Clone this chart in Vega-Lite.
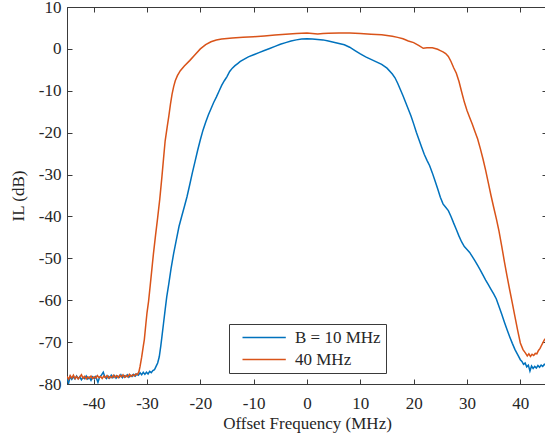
{
  "$schema": "https://vega.github.io/schema/vega-lite/v6.json",
  "width": 480,
  "height": 377,
  "autosize": {"type": "none"},
  "padding": {"left": 67, "top": 7, "right": 0, "bottom": 54},
  "config": {
    "font": "Liberation Serif",
    "view": {"stroke": "#3a3a3a", "strokeWidth": 1},
    "axis": {
      "labelFont": "Liberation Serif",
      "titleFont": "Liberation Serif",
      "labelFontSize": 17,
      "titleFontSize": 17,
      "labelColor": "#262626",
      "titleColor": "#262626",
      "titleFontWeight": "normal",
      "gridColor": "#e2e2e2",
      "gridWidth": 1,
      "domainColor": "#3a3a3a",
      "tickColor": "#3a3a3a",
      "tickSize": -5
    }
  },
  "data": {
    "values": [
      {"s": "B = 10 MHz", "f": -45, "v": -78.6},
      {"s": "B = 10 MHz", "f": -44.7, "v": -79.8},
      {"s": "B = 10 MHz", "f": -44.4, "v": -78.2},
      {"s": "B = 10 MHz", "f": -44.1, "v": -78.9},
      {"s": "B = 10 MHz", "f": -43.8, "v": -78.3},
      {"s": "B = 10 MHz", "f": -43.5, "v": -78.8},
      {"s": "B = 10 MHz", "f": -43.2, "v": -78.1},
      {"s": "B = 10 MHz", "f": -42.9, "v": -78.7},
      {"s": "B = 10 MHz", "f": -42.6, "v": -78.3},
      {"s": "B = 10 MHz", "f": -42.3, "v": -79.0},
      {"s": "B = 10 MHz", "f": -42.0, "v": -78.4},
      {"s": "B = 10 MHz", "f": -41.7, "v": -78.7},
      {"s": "B = 10 MHz", "f": -41.4, "v": -78.1},
      {"s": "B = 10 MHz", "f": -41.1, "v": -78.8},
      {"s": "B = 10 MHz", "f": -40.8, "v": -78.4},
      {"s": "B = 10 MHz", "f": -40.5, "v": -79.1},
      {"s": "B = 10 MHz", "f": -40.2, "v": -78.3},
      {"s": "B = 10 MHz", "f": -39.9, "v": -78.7},
      {"s": "B = 10 MHz", "f": -39.6, "v": -78.2},
      {"s": "B = 10 MHz", "f": -39.2, "v": -79.6},
      {"s": "B = 10 MHz", "f": -38.9, "v": -78.4},
      {"s": "B = 10 MHz", "f": -38.6, "v": -78.0},
      {"s": "B = 10 MHz", "f": -38.2, "v": -77.2},
      {"s": "B = 10 MHz", "f": -37.9, "v": -78.3},
      {"s": "B = 10 MHz", "f": -37.6, "v": -78.7},
      {"s": "B = 10 MHz", "f": -37.3, "v": -78.1},
      {"s": "B = 10 MHz", "f": -37.0, "v": -78.6},
      {"s": "B = 10 MHz", "f": -36.7, "v": -77.9},
      {"s": "B = 10 MHz", "f": -36.4, "v": -78.5},
      {"s": "B = 10 MHz", "f": -36.1, "v": -78.0},
      {"s": "B = 10 MHz", "f": -35.8, "v": -78.6},
      {"s": "B = 10 MHz", "f": -35.5, "v": -78.1},
      {"s": "B = 10 MHz", "f": -35.2, "v": -78.4},
      {"s": "B = 10 MHz", "f": -34.9, "v": -77.8},
      {"s": "B = 10 MHz", "f": -34.6, "v": -78.5},
      {"s": "B = 10 MHz", "f": -34.3, "v": -78.0},
      {"s": "B = 10 MHz", "f": -34.0, "v": -78.3},
      {"s": "B = 10 MHz", "f": -33.7, "v": -77.8},
      {"s": "B = 10 MHz", "f": -33.4, "v": -78.4},
      {"s": "B = 10 MHz", "f": -33.1, "v": -77.9},
      {"s": "B = 10 MHz", "f": -32.8, "v": -78.2},
      {"s": "B = 10 MHz", "f": -32.5, "v": -77.7},
      {"s": "B = 10 MHz", "f": -32.2, "v": -78.1},
      {"s": "B = 10 MHz", "f": -31.9, "v": -77.6},
      {"s": "B = 10 MHz", "f": -31.6, "v": -77.9},
      {"s": "B = 10 MHz", "f": -31.3, "v": -77.3},
      {"s": "B = 10 MHz", "f": -31.0, "v": -77.8},
      {"s": "B = 10 MHz", "f": -30.7, "v": -77.2},
      {"s": "B = 10 MHz", "f": -30.4, "v": -77.7},
      {"s": "B = 10 MHz", "f": -30.1, "v": -77.2},
      {"s": "B = 10 MHz", "f": -29.8, "v": -77.6},
      {"s": "B = 10 MHz", "f": -29.5, "v": -77.0},
      {"s": "B = 10 MHz", "f": -29.2, "v": -77.3},
      {"s": "B = 10 MHz", "f": -28.9, "v": -76.8},
      {"s": "B = 10 MHz", "f": -28.6, "v": -76.6},
      {"s": "B = 10 MHz", "f": -28.3, "v": -75.8},
      {"s": "B = 10 MHz", "f": -28.0, "v": -75.0},
      {"s": "B = 10 MHz", "f": -27.7, "v": -73.5},
      {"s": "B = 10 MHz", "f": -27.4, "v": -70.8},
      {"s": "B = 10 MHz", "f": -27.2, "v": -68.7},
      {"s": "B = 10 MHz", "f": -26.9, "v": -65.5},
      {"s": "B = 10 MHz", "f": -26.6, "v": -62.3},
      {"s": "B = 10 MHz", "f": -26.3, "v": -59.2},
      {"s": "B = 10 MHz", "f": -25.9, "v": -56},
      {"s": "B = 10 MHz", "f": -25.5, "v": -52.5},
      {"s": "B = 10 MHz", "f": -25, "v": -48.8},
      {"s": "B = 10 MHz", "f": -24.5, "v": -45.6},
      {"s": "B = 10 MHz", "f": -24, "v": -42.4},
      {"s": "B = 10 MHz", "f": -23.5, "v": -40},
      {"s": "B = 10 MHz", "f": -23, "v": -37.7},
      {"s": "B = 10 MHz", "f": -22.5, "v": -35.3},
      {"s": "B = 10 MHz", "f": -22, "v": -32.5},
      {"s": "B = 10 MHz", "f": -21.5, "v": -29.6},
      {"s": "B = 10 MHz", "f": -21, "v": -26.9},
      {"s": "B = 10 MHz", "f": -20.5, "v": -24.2},
      {"s": "B = 10 MHz", "f": -20, "v": -21.7},
      {"s": "B = 10 MHz", "f": -19.5, "v": -19.4},
      {"s": "B = 10 MHz", "f": -19, "v": -17.5},
      {"s": "B = 10 MHz", "f": -18.5, "v": -15.8},
      {"s": "B = 10 MHz", "f": -18, "v": -14.3},
      {"s": "B = 10 MHz", "f": -17.5, "v": -12.8},
      {"s": "B = 10 MHz", "f": -17, "v": -11.5},
      {"s": "B = 10 MHz", "f": -16.5, "v": -10.1},
      {"s": "B = 10 MHz", "f": -16, "v": -8.7},
      {"s": "B = 10 MHz", "f": -15.5, "v": -7.6},
      {"s": "B = 10 MHz", "f": -15, "v": -6.6},
      {"s": "B = 10 MHz", "f": -14.5, "v": -5.4},
      {"s": "B = 10 MHz", "f": -14, "v": -4.6},
      {"s": "B = 10 MHz", "f": -13.5, "v": -4.0},
      {"s": "B = 10 MHz", "f": -13, "v": -3.5},
      {"s": "B = 10 MHz", "f": -12.5, "v": -3.0},
      {"s": "B = 10 MHz", "f": -12, "v": -2.6},
      {"s": "B = 10 MHz", "f": -11, "v": -1.9},
      {"s": "B = 10 MHz", "f": -10, "v": -1.4},
      {"s": "B = 10 MHz", "f": -9, "v": -0.9},
      {"s": "B = 10 MHz", "f": -8, "v": -0.4},
      {"s": "B = 10 MHz", "f": -7, "v": 0.1},
      {"s": "B = 10 MHz", "f": -6, "v": 0.6},
      {"s": "B = 10 MHz", "f": -5, "v": 1.1},
      {"s": "B = 10 MHz", "f": -4, "v": 1.5},
      {"s": "B = 10 MHz", "f": -3, "v": 1.9},
      {"s": "B = 10 MHz", "f": -2, "v": 2.15},
      {"s": "B = 10 MHz", "f": -1, "v": 2.35},
      {"s": "B = 10 MHz", "f": 0, "v": 2.4},
      {"s": "B = 10 MHz", "f": 1, "v": 2.35},
      {"s": "B = 10 MHz", "f": 2, "v": 2.25},
      {"s": "B = 10 MHz", "f": 3, "v": 2.15},
      {"s": "B = 10 MHz", "f": 4, "v": 1.9},
      {"s": "B = 10 MHz", "f": 5, "v": 1.6},
      {"s": "B = 10 MHz", "f": 6, "v": 1.3},
      {"s": "B = 10 MHz", "f": 7, "v": 1.0},
      {"s": "B = 10 MHz", "f": 8, "v": 0.4},
      {"s": "B = 10 MHz", "f": 9, "v": -0.4},
      {"s": "B = 10 MHz", "f": 10, "v": -1.2},
      {"s": "B = 10 MHz", "f": 11, "v": -1.9},
      {"s": "B = 10 MHz", "f": 12, "v": -2.5},
      {"s": "B = 10 MHz", "f": 13, "v": -3.1},
      {"s": "B = 10 MHz", "f": 14, "v": -3.7},
      {"s": "B = 10 MHz", "f": 15, "v": -4.6},
      {"s": "B = 10 MHz", "f": 16, "v": -6.0},
      {"s": "B = 10 MHz", "f": 16.5, "v": -6.9},
      {"s": "B = 10 MHz", "f": 17, "v": -8.2},
      {"s": "B = 10 MHz", "f": 17.5, "v": -9.7},
      {"s": "B = 10 MHz", "f": 18, "v": -11.2},
      {"s": "B = 10 MHz", "f": 18.5, "v": -12.8},
      {"s": "B = 10 MHz", "f": 19, "v": -14.4},
      {"s": "B = 10 MHz", "f": 19.5, "v": -16},
      {"s": "B = 10 MHz", "f": 20, "v": -17.9},
      {"s": "B = 10 MHz", "f": 20.5, "v": -19.9},
      {"s": "B = 10 MHz", "f": 21, "v": -21.7},
      {"s": "B = 10 MHz", "f": 21.5, "v": -23.5},
      {"s": "B = 10 MHz", "f": 22, "v": -25.2},
      {"s": "B = 10 MHz", "f": 22.5, "v": -26.6},
      {"s": "B = 10 MHz", "f": 23, "v": -27.9},
      {"s": "B = 10 MHz", "f": 23.5, "v": -29.6},
      {"s": "B = 10 MHz", "f": 24, "v": -31.5},
      {"s": "B = 10 MHz", "f": 24.5, "v": -33.4},
      {"s": "B = 10 MHz", "f": 25, "v": -35.4},
      {"s": "B = 10 MHz", "f": 25.5, "v": -37.0},
      {"s": "B = 10 MHz", "f": 26, "v": -37.8},
      {"s": "B = 10 MHz", "f": 26.5, "v": -38.6},
      {"s": "B = 10 MHz", "f": 27, "v": -40.0},
      {"s": "B = 10 MHz", "f": 27.5, "v": -41.6},
      {"s": "B = 10 MHz", "f": 28, "v": -43.1},
      {"s": "B = 10 MHz", "f": 28.5, "v": -44.7},
      {"s": "B = 10 MHz", "f": 29, "v": -46.1},
      {"s": "B = 10 MHz", "f": 29.5, "v": -47.2},
      {"s": "B = 10 MHz", "f": 30, "v": -47.9},
      {"s": "B = 10 MHz", "f": 30.5, "v": -48.6},
      {"s": "B = 10 MHz", "f": 31, "v": -49.6},
      {"s": "B = 10 MHz", "f": 31.5, "v": -50.6},
      {"s": "B = 10 MHz", "f": 32, "v": -51.7},
      {"s": "B = 10 MHz", "f": 32.5, "v": -52.8},
      {"s": "B = 10 MHz", "f": 33, "v": -54.0},
      {"s": "B = 10 MHz", "f": 33.5, "v": -55.2},
      {"s": "B = 10 MHz", "f": 34, "v": -56.3},
      {"s": "B = 10 MHz", "f": 34.5, "v": -57.4},
      {"s": "B = 10 MHz", "f": 35, "v": -58.5},
      {"s": "B = 10 MHz", "f": 35.5, "v": -59.7},
      {"s": "B = 10 MHz", "f": 36, "v": -61.5},
      {"s": "B = 10 MHz", "f": 36.5, "v": -63.3},
      {"s": "B = 10 MHz", "f": 37, "v": -65.2},
      {"s": "B = 10 MHz", "f": 37.5, "v": -67},
      {"s": "B = 10 MHz", "f": 38, "v": -68.7},
      {"s": "B = 10 MHz", "f": 38.5, "v": -70.3},
      {"s": "B = 10 MHz", "f": 39, "v": -71.8},
      {"s": "B = 10 MHz", "f": 39.5, "v": -73.0},
      {"s": "B = 10 MHz", "f": 40, "v": -74.2},
      {"s": "B = 10 MHz", "f": 40.3, "v": -74.6},
      {"s": "B = 10 MHz", "f": 40.6, "v": -75.3},
      {"s": "B = 10 MHz", "f": 40.9, "v": -75.0},
      {"s": "B = 10 MHz", "f": 41.2, "v": -75.9},
      {"s": "B = 10 MHz", "f": 41.5, "v": -75.5},
      {"s": "B = 10 MHz", "f": 41.8, "v": -76.9},
      {"s": "B = 10 MHz", "f": 42.1, "v": -75.7},
      {"s": "B = 10 MHz", "f": 42.4, "v": -76.3},
      {"s": "B = 10 MHz", "f": 42.7, "v": -75.8},
      {"s": "B = 10 MHz", "f": 43.0, "v": -76.2},
      {"s": "B = 10 MHz", "f": 43.3, "v": -75.6},
      {"s": "B = 10 MHz", "f": 43.6, "v": -76.0},
      {"s": "B = 10 MHz", "f": 43.9, "v": -75.5},
      {"s": "B = 10 MHz", "f": 44.2, "v": -75.8},
      {"s": "B = 10 MHz", "f": 44.5, "v": -75.3},
      {"s": "B = 10 MHz", "f": 44.8, "v": -75.5},
      {"s": "B = 10 MHz", "f": 45, "v": -75.2},
      {"s": "40 MHz", "f": -45, "v": -78.2},
      {"s": "40 MHz", "f": -44.7, "v": -78.9},
      {"s": "40 MHz", "f": -44.4, "v": -78.0},
      {"s": "40 MHz", "f": -44.1, "v": -78.6},
      {"s": "40 MHz", "f": -43.8, "v": -77.9},
      {"s": "40 MHz", "f": -43.5, "v": -78.7},
      {"s": "40 MHz", "f": -43.2, "v": -78.2},
      {"s": "40 MHz", "f": -42.9, "v": -78.8},
      {"s": "40 MHz", "f": -42.6, "v": -78.3},
      {"s": "40 MHz", "f": -42.3, "v": -77.8},
      {"s": "40 MHz", "f": -42.0, "v": -78.6},
      {"s": "40 MHz", "f": -41.7, "v": -78.2},
      {"s": "40 MHz", "f": -41.4, "v": -78.8},
      {"s": "40 MHz", "f": -41.1, "v": -78.3},
      {"s": "40 MHz", "f": -40.8, "v": -78.6},
      {"s": "40 MHz", "f": -40.5, "v": -78.1},
      {"s": "40 MHz", "f": -40.2, "v": -78.7},
      {"s": "40 MHz", "f": -39.9, "v": -78.3},
      {"s": "40 MHz", "f": -39.6, "v": -78.6},
      {"s": "40 MHz", "f": -39.3, "v": -78.0},
      {"s": "40 MHz", "f": -39.0, "v": -78.5},
      {"s": "40 MHz", "f": -38.7, "v": -78.2},
      {"s": "40 MHz", "f": -38.4, "v": -78.7},
      {"s": "40 MHz", "f": -38.1, "v": -78.1},
      {"s": "40 MHz", "f": -37.8, "v": -78.5},
      {"s": "40 MHz", "f": -37.5, "v": -78.0},
      {"s": "40 MHz", "f": -37.2, "v": -78.6},
      {"s": "40 MHz", "f": -36.9, "v": -78.2},
      {"s": "40 MHz", "f": -36.6, "v": -78.5},
      {"s": "40 MHz", "f": -36.3, "v": -77.9},
      {"s": "40 MHz", "f": -36.0, "v": -78.4},
      {"s": "40 MHz", "f": -35.7, "v": -78.0},
      {"s": "40 MHz", "f": -35.4, "v": -78.5},
      {"s": "40 MHz", "f": -35.1, "v": -77.9},
      {"s": "40 MHz", "f": -34.8, "v": -78.3},
      {"s": "40 MHz", "f": -34.5, "v": -77.8},
      {"s": "40 MHz", "f": -34.2, "v": -78.4},
      {"s": "40 MHz", "f": -33.9, "v": -78.0},
      {"s": "40 MHz", "f": -33.6, "v": -78.3},
      {"s": "40 MHz", "f": -33.3, "v": -77.7},
      {"s": "40 MHz", "f": -33.0, "v": -78.2},
      {"s": "40 MHz", "f": -32.7, "v": -77.8},
      {"s": "40 MHz", "f": -32.4, "v": -78.1},
      {"s": "40 MHz", "f": -32.1, "v": -77.6},
      {"s": "40 MHz", "f": -31.8, "v": -77.8},
      {"s": "40 MHz", "f": -31.5, "v": -77.0},
      {"s": "40 MHz", "f": -31.3, "v": -75.8},
      {"s": "40 MHz", "f": -31.0, "v": -73.6},
      {"s": "40 MHz", "f": -30.7, "v": -71.0},
      {"s": "40 MHz", "f": -30.5, "v": -69.4},
      {"s": "40 MHz", "f": -30.2, "v": -65.5},
      {"s": "40 MHz", "f": -30.0, "v": -63},
      {"s": "40 MHz", "f": -29.7, "v": -60.2},
      {"s": "40 MHz", "f": -29.4, "v": -56.5},
      {"s": "40 MHz", "f": -29.0, "v": -51.5},
      {"s": "40 MHz", "f": -28.8, "v": -49},
      {"s": "40 MHz", "f": -28.4, "v": -44.5},
      {"s": "40 MHz", "f": -28.0, "v": -40.3},
      {"s": "40 MHz", "f": -27.6, "v": -35.8},
      {"s": "40 MHz", "f": -27.2, "v": -30.5},
      {"s": "40 MHz", "f": -26.9, "v": -26.2},
      {"s": "40 MHz", "f": -26.6, "v": -22},
      {"s": "40 MHz", "f": -26.2, "v": -18.5},
      {"s": "40 MHz", "f": -25.9, "v": -16},
      {"s": "40 MHz", "f": -25.6, "v": -13.2},
      {"s": "40 MHz", "f": -25.3, "v": -10.8},
      {"s": "40 MHz", "f": -25, "v": -9},
      {"s": "40 MHz", "f": -24.7, "v": -7.6},
      {"s": "40 MHz", "f": -24.3, "v": -6.4},
      {"s": "40 MHz", "f": -23.75, "v": -5.2},
      {"s": "40 MHz", "f": -23, "v": -4.1},
      {"s": "40 MHz", "f": -22, "v": -2.8},
      {"s": "40 MHz", "f": -21, "v": -1.4},
      {"s": "40 MHz", "f": -20, "v": 0},
      {"s": "40 MHz", "f": -19, "v": 1.0},
      {"s": "40 MHz", "f": -18, "v": 1.7},
      {"s": "40 MHz", "f": -17, "v": 2.1},
      {"s": "40 MHz", "f": -16, "v": 2.35},
      {"s": "40 MHz", "f": -15, "v": 2.5},
      {"s": "40 MHz", "f": -14, "v": 2.6},
      {"s": "40 MHz", "f": -12, "v": 2.75},
      {"s": "40 MHz", "f": -10, "v": 2.9},
      {"s": "40 MHz", "f": -8, "v": 3.1},
      {"s": "40 MHz", "f": -6, "v": 3.3},
      {"s": "40 MHz", "f": -4, "v": 3.5},
      {"s": "40 MHz", "f": -2, "v": 3.7},
      {"s": "40 MHz", "f": 0, "v": 3.8},
      {"s": "40 MHz", "f": 1, "v": 3.7},
      {"s": "40 MHz", "f": 2, "v": 3.55},
      {"s": "40 MHz", "f": 3, "v": 3.7},
      {"s": "40 MHz", "f": 4, "v": 3.75},
      {"s": "40 MHz", "f": 6, "v": 3.8},
      {"s": "40 MHz", "f": 8, "v": 3.8},
      {"s": "40 MHz", "f": 10, "v": 3.7},
      {"s": "40 MHz", "f": 12, "v": 3.5},
      {"s": "40 MHz", "f": 14, "v": 3.35},
      {"s": "40 MHz", "f": 15, "v": 3.2},
      {"s": "40 MHz", "f": 16, "v": 3.0},
      {"s": "40 MHz", "f": 17, "v": 2.75},
      {"s": "40 MHz", "f": 18, "v": 2.4},
      {"s": "40 MHz", "f": 19, "v": 1.9},
      {"s": "40 MHz", "f": 20, "v": 1.5},
      {"s": "40 MHz", "f": 21, "v": 0.8},
      {"s": "40 MHz", "f": 21.8, "v": 0.15},
      {"s": "40 MHz", "f": 22.5, "v": 0.25},
      {"s": "40 MHz", "f": 23.5, "v": 0.25},
      {"s": "40 MHz", "f": 24, "v": 0.1},
      {"s": "40 MHz", "f": 24.5, "v": -0.1},
      {"s": "40 MHz", "f": 25, "v": -0.4},
      {"s": "40 MHz", "f": 25.5, "v": -0.7},
      {"s": "40 MHz", "f": 26, "v": -1.1},
      {"s": "40 MHz", "f": 26.5, "v": -1.8},
      {"s": "40 MHz", "f": 27, "v": -3.0},
      {"s": "40 MHz", "f": 27.5, "v": -4.5},
      {"s": "40 MHz", "f": 28, "v": -5.8},
      {"s": "40 MHz", "f": 28.5, "v": -7.8},
      {"s": "40 MHz", "f": 29, "v": -10.3},
      {"s": "40 MHz", "f": 29.5, "v": -12.7},
      {"s": "40 MHz", "f": 30, "v": -14.7},
      {"s": "40 MHz", "f": 30.5, "v": -16.4},
      {"s": "40 MHz", "f": 31, "v": -18.0},
      {"s": "40 MHz", "f": 31.5, "v": -19.8},
      {"s": "40 MHz", "f": 32, "v": -21.5},
      {"s": "40 MHz", "f": 32.5, "v": -23.8},
      {"s": "40 MHz", "f": 33, "v": -26.3},
      {"s": "40 MHz", "f": 33.5, "v": -29.0},
      {"s": "40 MHz", "f": 34, "v": -32},
      {"s": "40 MHz", "f": 34.5, "v": -35},
      {"s": "40 MHz", "f": 35, "v": -37.8},
      {"s": "40 MHz", "f": 35.5, "v": -40.5},
      {"s": "40 MHz", "f": 36, "v": -43.5},
      {"s": "40 MHz", "f": 36.5, "v": -47},
      {"s": "40 MHz", "f": 37, "v": -50.7},
      {"s": "40 MHz", "f": 37.5, "v": -54.2},
      {"s": "40 MHz", "f": 38, "v": -57.5},
      {"s": "40 MHz", "f": 38.5, "v": -60.7},
      {"s": "40 MHz", "f": 39, "v": -64},
      {"s": "40 MHz", "f": 39.5, "v": -67.2},
      {"s": "40 MHz", "f": 40, "v": -70.2},
      {"s": "40 MHz", "f": 40.5, "v": -71.8},
      {"s": "40 MHz", "f": 41, "v": -72.7},
      {"s": "40 MHz", "f": 41.3, "v": -73.3},
      {"s": "40 MHz", "f": 41.6, "v": -72.8},
      {"s": "40 MHz", "f": 41.9, "v": -73.4},
      {"s": "40 MHz", "f": 42.2, "v": -72.9},
      {"s": "40 MHz", "f": 42.5, "v": -73.2},
      {"s": "40 MHz", "f": 42.8, "v": -72.7},
      {"s": "40 MHz", "f": 43.1, "v": -72.8},
      {"s": "40 MHz", "f": 43.4, "v": -72.0},
      {"s": "40 MHz", "f": 43.7, "v": -71.5},
      {"s": "40 MHz", "f": 44, "v": -70.7},
      {"s": "40 MHz", "f": 44.5, "v": -69.5},
      {"s": "40 MHz", "f": 45, "v": -68.7}
    ]
  },
  "layer": [
    {
      "mark": {"type": "line", "opacity": 0},
      "encoding": {
        "x": {"field": "f", "type": "quantitative", "scale": {"domain": [-45, 45], "nice": false, "zero": false},
              "axis": {"orient": "top", "labels": false, "title": null, "grid": false, "domain": false, "values": [-40, -30, -20, -10, 0, 10, 20, 30, 40]}},
        "y": {"field": "v", "type": "quantitative", "scale": {"domain": [-80, 10], "nice": false, "zero": false},
              "axis": {"orient": "right", "labels": false, "title": null, "grid": false, "domain": false, "values": [-80, -70, -60, -50, -40, -30, -20, -10, 0, 10]}},
        "detail": {"field": "s", "type": "nominal"}
      }
    },
    {
      "mark": {"type": "line", "strokeWidth": 1.5, "clip": true},
      "encoding": {
        "x": {"field": "f", "type": "quantitative", "scale": {"domain": [-45, 45], "nice": false, "zero": false},
              "axis": {"values": [-40, -30, -20, -10, 0, 10, 20, 30, 40], "title": "Offset Frequency (MHz)", "labelExpr": "'' + datum.value", "labelPadding": 16, "titlePadding": 4}},
        "y": {"field": "v", "type": "quantitative", "scale": {"domain": [-80, 10], "nice": false, "zero": false},
              "axis": {"values": [-80, -70, -60, -50, -40, -30, -20, -10, 0, 10], "title": "IL (dB)", "labelExpr": "'' + datum.value", "labelPadding": 11, "titlePadding": 11}},
        "color": {
          "field": "s", "type": "nominal",
          "scale": {"domain": ["B = 10 MHz", "40 MHz"], "range": ["#0072BD", "#D95319"]},
          "legend": {
            "orient": "none", "legendX": 162, "legendY": 317, "title": null,
            "symbolType": "M0,0H10", "symbolSize": 75, "symbolStrokeWidth": 1.5,
            "labelFont": "Liberation Serif", "labelFontSize": 17, "labelColor": "#262626",
            "strokeColor": "#3a3a3a", "fillColor": "white", "padding": 5, "rowPadding": 4, "labelOffset": 44
          }
        }
      }
    }
  ],
  "resolve": {"axis": {"x": "independent", "y": "independent"}}
}
